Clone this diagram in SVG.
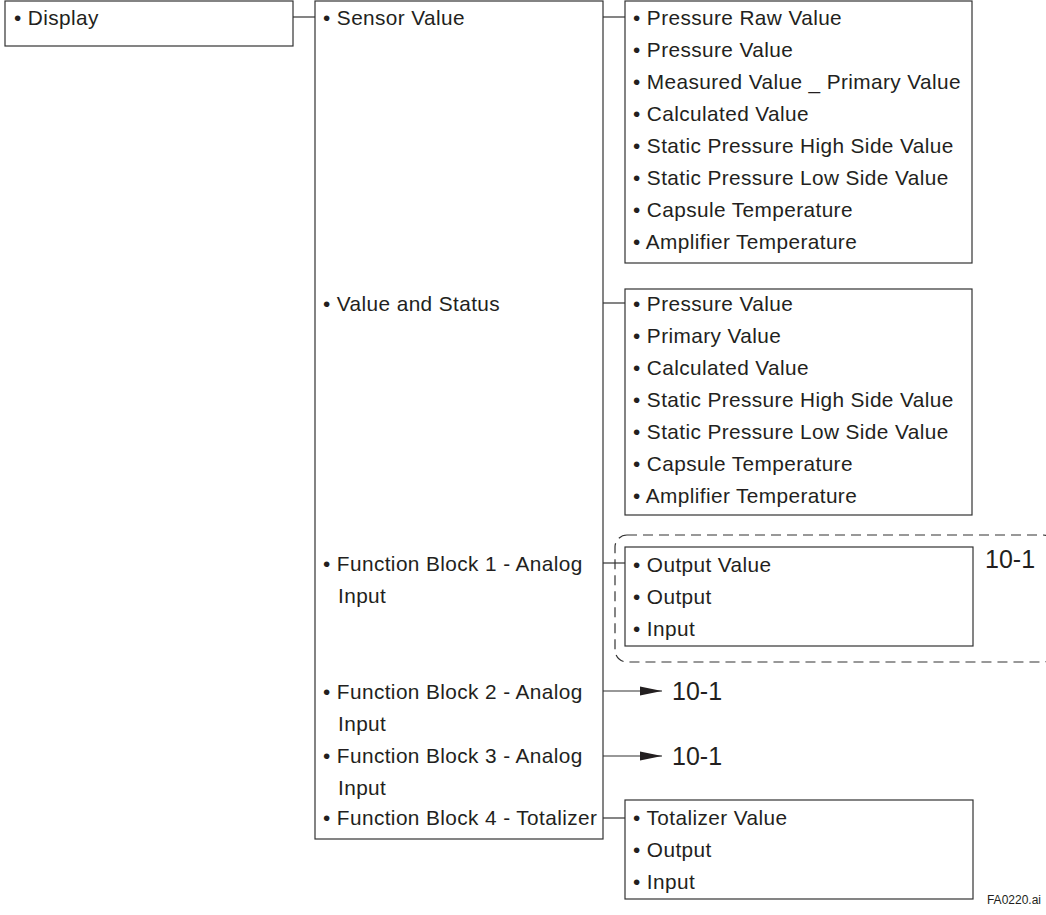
<svg xmlns="http://www.w3.org/2000/svg" width="1046" height="915" viewBox="0 0 1046 915">
<defs>
<style>
.box{fill:#fff;stroke:#333;stroke-width:1.2}
.ln{stroke:#333;stroke-width:1.2;fill:none}
.dash{fill:none;stroke:#333;stroke-width:1.2;stroke-dasharray:10 6}
text{font-family:"Liberation Sans",Arial,sans-serif;font-size:20.8px;fill:#231f20;letter-spacing:0.4px}
.ref{font-size:25px;letter-spacing:0}
.fn{font-size:12px;letter-spacing:0}
</style>
<marker id="arr" markerWidth="22" markerHeight="10" refX="22" refY="5" orient="auto" markerUnits="userSpaceOnUse">
<path d="M0,0.5 L22,5 L0,9.5 Z" fill="#231f20"/>
</marker>
</defs>
<rect width="1046" height="915" fill="#fff"/>
<g id="connectors">
<line class="ln" x1="293" y1="17" x2="315" y2="17"/>
<line class="ln" x1="603" y1="17" x2="625" y2="17"/>
<line class="ln" x1="603" y1="303" x2="625" y2="303"/>
<line class="ln" x1="603" y1="563" x2="625" y2="563"/>
<line class="ln" x1="603" y1="691" x2="662" y2="691" marker-end="url(#arr)"/>
<line class="ln" x1="603" y1="756" x2="662" y2="756" marker-end="url(#arr)"/>
<line class="ln" x1="603" y1="818" x2="625" y2="818"/>
</g>
<g id="display">
<rect class="box" x="5" y="1" width="288" height="45"/>
<text x="14" y="25">• Display</text>
</g>
<g id="menu">
<rect class="box" x="315" y="1" width="288" height="838"/>
<text x="323" y="25">• Sensor Value</text>
<text x="323" y="311">• Value and Status</text>
<text x="323" y="571">• Function Block 1 - Analog</text>
<text x="338" y="603">Input</text>
<text x="323" y="699">• Function Block 2 - Analog</text>
<text x="338" y="731">Input</text>
<text x="323" y="763">• Function Block 3 - Analog</text>
<text x="338" y="795">Input</text>
<text x="323" y="825">• Function Block 4 - Totalizer</text>
</g>
<g id="sensor-value">
<rect class="box" x="625" y="1" width="347" height="262"/>
<text x="633" y="25">• Pressure Raw Value</text>
<text x="633" y="57">• Pressure Value</text>
<text x="633" y="89">• Measured Value _ Primary Value</text>
<text x="633" y="121">• Calculated Value</text>
<text x="633" y="153">• Static Pressure High Side Value</text>
<text x="633" y="185">• Static Pressure Low Side Value</text>
<text x="633" y="217">• Capsule Temperature</text>
<text x="633" y="249">• Amplifier Temperature</text>
</g>
<g id="value-status">
<rect class="box" x="625" y="289" width="347" height="226"/>
<text x="633" y="311">• Pressure Value</text>
<text x="633" y="343">• Primary Value</text>
<text x="633" y="375">• Calculated Value</text>
<text x="633" y="407">• Static Pressure High Side Value</text>
<text x="633" y="439">• Static Pressure Low Side Value</text>
<text x="633" y="471">• Capsule Temperature</text>
<text x="633" y="503">• Amplifier Temperature</text>
</g>
<g id="fb1">
<rect class="dash" x="615" y="535" width="440" height="127" rx="12"/>
<rect class="box" x="625" y="547" width="348" height="99"/>
<text x="633" y="572">• Output Value</text>
<text x="633" y="604">• Output</text>
<text x="633" y="636">• Input</text>
<text class="ref" x="985" y="568">10-1</text>
</g>
<g id="fb2-ref"><text class="ref" x="672" y="700">10-1</text></g>
<g id="fb3-ref"><text class="ref" x="672" y="765">10-1</text></g>
<g id="fb4">
<rect class="box" x="625" y="800" width="348" height="99"/>
<text x="633" y="825">• Totalizer Value</text>
<text x="633" y="857">• Output</text>
<text x="633" y="889">• Input</text>
</g>
<text class="fn" x="1041" y="904" text-anchor="end">FA0220.ai</text>
</svg>
